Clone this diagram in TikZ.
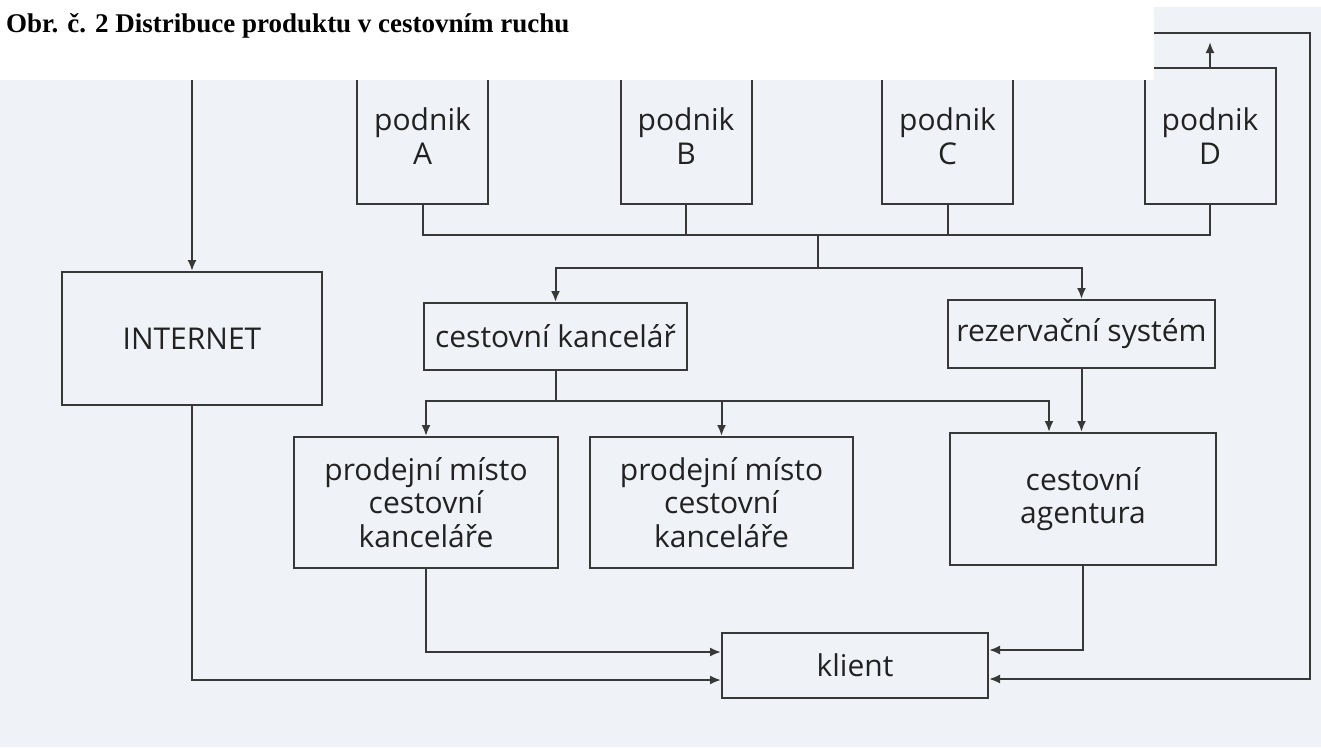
\documentclass[tikz,border=0pt]{standalone}
\usepackage{fontspec}
\setmainfont{Open Sans}
\newfontfamily\titlefont{Liberation Serif}
\usetikzlibrary{arrows.meta,calc}
\definecolor{scan}{HTML}{EFF2F6}
\definecolor{ink}{HTML}{383838}
\definecolor{txt}{HTML}{222222}
\begin{document}
\begin{tikzpicture}[x=1pt,y=-1pt,
  box/.style={draw=ink, line width=2pt, text=txt, align=center, inner sep=0pt,
              font=\fontsize{30}{33.5}\selectfont},
  line/.style={draw=ink, line width=2pt},
  arr/.style={line, -{Latex[length=11pt,width=9pt]}}]
\useasboundingbox (0,0) rectangle (1321,747);
\fill[white] (0,0) rectangle (1321,747);
\fill[scan] (0,80) -- (1154,80) -- (1154,7) -- (1321,7) -- (1321,747) -- (0,747) -- cycle;
\node[anchor=base west, inner sep=0pt, text=black,
      font=\titlefont\bfseries\fontsize{27}{30}\selectfont] (title) at (6,32)
      {Obr. č. 2 Distribuce produktu v cestovním ruchu};
\begin{scope}
\clip (0,80) -- (1154,80) -- (1154,7) -- (1321,7) -- (1321,747) -- (0,747) -- cycle;
% producers
\node[box, minimum width=131pt, minimum height=136pt] (A) at (422.5,136) {podnik\\A};
\node[box, minimum width=131pt, minimum height=136pt] (B) at (686,136) {podnik\\B};
\node[box, minimum width=131pt, minimum height=136pt] (C) at (947.5,136) {podnik\\C};
\node[box, minimum width=131pt, minimum height=136pt] (D) at (1210,136) {podnik\\D};
% middle
\node[box, minimum width=260pt, minimum height=133pt] (inet) at (192,338.5) {INTERNET};
\node[box, minimum width=263pt, minimum height=67pt] (ck) at (555.5,336.5) {cestovní kancelář};
\node[box, minimum width=267pt, minimum height=68pt] (rs) at (1081.5,334) {rezervační systém};
% lower
\node[box, minimum width=264pt, minimum height=131pt] (pm1) at (426,502.5) {prodejní místo\\cestovní\\kanceláře};
\node[box, minimum width=263pt, minimum height=131pt] (pm2) at (721.5,502.5) {prodejní místo\\cestovní\\kanceláře};
\node[box, minimum width=266pt, minimum height=132pt] (ag) at (1083,499) {cestovní\\agentura};
\node[box, minimum width=266pt, minimum height=65pt] (kl) at (855,665.5) {klient};
% producer bus
\coordinate (busP) at (0,235);
\draw[line] (A.south) -- (A.south |- busP) -- (D.south |- busP) -- (D.south);
\draw[line] (B.south) -- (B.south |- busP);
\draw[line] (C.south) -- (C.south |- busP);
\coordinate (j1) at (818,235);
\coordinate (j2) at (818,268);
\draw[line] (j1) -- (j2);
\draw[arr] (j2) -| (ck.north);
\draw[arr] (j2) -| (rs.north);
% travel agency bus
\coordinate (kb) at ($(ck.south)+(0,30)$);
\draw[line] (ck.south) -- (kb);
\draw[arr] (kb) -| (pm1.north);
\draw[arr] (kb) -| (pm2.north);
\coordinate (agin) at ($(ag.north)+(-34,0)$);
\draw[arr] (kb) -| (agin);
\draw[arr] (rs.south) -- (ag.north -| rs.south);
% to client
\coordinate (kl1) at ($(kl.west)+(0,-13.5)$);
\coordinate (kl2) at ($(kl.west)+(0,14.5)$);
\coordinate (kr1) at ($(kl.east)+(0,-15.5)$);
\coordinate (kr2) at ($(kl.east)+(0,13.5)$);
\draw[arr] (pm1.south) |- (kl1);
\draw[arr] (inet.south) |- (kl2);
\draw[arr] (ag.south) |- (kr1);
% top loop
\coordinate (topL) at (192,33);
\coordinate (topR) at (1310,33);
\coordinate (dtip) at (1210,42);
\draw[arr] (topL) -- (topR) |- (kr2);
\draw[arr] (topL) -- (inet.north);
\draw[arr] (D.north) -- (dtip);
\end{scope}
\end{tikzpicture}
\end{document}
